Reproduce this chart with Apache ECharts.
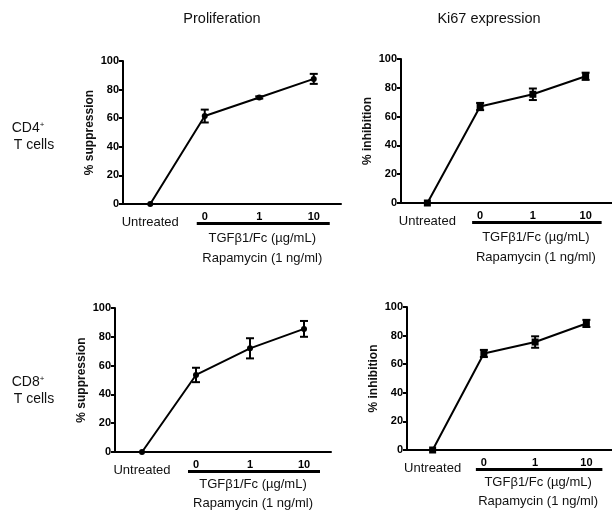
<!DOCTYPE html>
<html>
<head>
<meta charset="utf-8">
<script src="https://cdn.jsdelivr.net/npm/echarts@6/dist/echarts.min.js"></script>
<style>
  html, body { margin: 0; padding: 0; background: #fff; }
  #chart { width: 612px; height: 514px; }
</style>
</head>
<body>
<div id="chart"></div>
<script>
// categories on every x axis
var categories = ['Untreated', '0', '1', '10'];
var yTicks = [0, 20, 40, 60, 80, 100];

// CD4+ T cells
var cd4Prolif = [0, 61.5, 74.5, 87.5];
var cd4ProlifErr = [0, 4.5, 0.8, 3.5];
var cd4Ki67 = [0, 67, 75.5, 88];
var cd4Ki67Err = [0, 2.5, 4, 2.5];

// CD8+ T cells
var cd8Prolif = [0, 53.5, 72, 85.5];
var cd8ProlifErr = [0, 5, 7, 5.5];
var cd8Ki67 = [0, 67.5, 75.5, 88.5];
var cd8Ki67Err = [0, 2.5, 4, 2.5];

var FONT = '"Liberation Sans", Arial, sans-serif';

var panels = [
    { grid: { left: 123, top: 61, width: 218, height: 143 }, name: '% suppression', values: cd4Prolif, err: cd4ProlifErr, symbol: 'circle', size: 6, off: [34, 54] },
    { grid: { left: 401, top: 59, width: 216, height: 144 }, name: '% inhibition', values: cd4Ki67, err: cd4Ki67Err, symbol: 'rect', size: 7, off: [34, 54] },
    { grid: { left: 115, top: 308, width: 216, height: 144 }, name: '% suppression', values: cd8Prolif, err: cd8ProlifErr, symbol: 'circle', size: 6, off: [32, 51] },
    { grid: { left: 407, top: 307, width: 215, height: 143 }, name: '% inhibition', values: cd8Ki67, err: cd8Ki67Err, symbol: 'rect', size: 7, off: [32, 51] }
];

var chart = echarts.init(document.getElementById('chart'), null, { renderer: 'canvas' });

var grids = [], xAxes = [], yAxes = [], series = [];

panels.forEach(function (p, i) {
    grids.push(p.grid);
    xAxes.push({
        type: 'category',
        gridIndex: i,
        data: categories,
        boundaryGap: true,
        axisLine: { lineStyle: { color: '#000', width: 2 } },
        axisTick: { alignWithLabel: true, length: 4, lineStyle: { color: '#000', width: 2 },
            interval: function (idx) { return idx > 0; } },
        axisLabel: {
            interval: 0,
            margin: 7,
            color: '#000',
            fontFamily: FONT,
            fontSize: 11,
            fontWeight: 'bold',
            formatter: function (v) {
                return v === 'Untreated' ? '{u|' + v + '}' : v;
            },
            rich: {
                u: { fontFamily: FONT, fontSize: 13, fontWeight: 'normal', color: '#111', padding: [5, 0, 0, 0] }
            }
        }
    });
    yAxes.push({
        type: 'value',
        gridIndex: i,
        min: 0,
        max: 100,
        interval: 20,
        name: p.name,
        nameLocation: 'middle',
        nameGap: 27,
        nameTextStyle: { color: '#111', fontFamily: FONT, fontSize: 12, fontWeight: 'bold' },
        splitLine: { show: false },
        axisLine: { show: true, lineStyle: { color: '#000', width: 2 } },
        axisTick: { show: true, length: 4, lineStyle: { color: '#000', width: 2 } },
        axisLabel: { margin: 4, color: '#000', fontFamily: FONT, fontSize: 11, fontWeight: 'bold',
            formatter: function (v) { return yTicks.indexOf(v) >= 0 ? String(v) : ''; } }
    });
    series.push({
        type: 'line',
        xAxisIndex: i,
        yAxisIndex: i,
        data: p.values,
        symbol: p.symbol,
        symbolSize: p.size,
        lineStyle: { color: '#000', width: 2 },
        itemStyle: { color: '#000' },
        z: 3
    });
    series.push({
        type: 'custom',
        xAxisIndex: i,
        yAxisIndex: i,
        data: p.values.map(function (v, k) { return [k, v - p.err[k], v + p.err[k]]; }),
        encode: { x: 0, y: [1, 2] },
        renderItem: function (params, api) {
            var lo = api.coord([api.value(0), api.value(1)]);
            var hi = api.coord([api.value(0), api.value(2)]);
            var w = 4;
            var st = { stroke: '#000', lineWidth: 2 };
            return {
                type: 'group',
                children: [
                    { type: 'line', shape: { x1: lo[0], y1: lo[1], x2: hi[0], y2: hi[1] }, style: st },
                    { type: 'line', shape: { x1: lo[0] - w, y1: lo[1], x2: lo[0] + w, y2: lo[1] }, style: st },
                    { type: 'line', shape: { x1: hi[0] - w, y1: hi[1], x2: hi[0] + w, y2: hi[1] }, style: st }
                ]
            };
        },
        z: 4
    });
});

chart.setOption({
    animation: false,
    backgroundColor: '#fff',
    grid: grids,
    xAxis: xAxes,
    yAxis: yAxes,
    series: series
});

// titles, row labels and the treatment bar under each panel
function txt(x, y, s, size, extra) {
    var style = { text: s, fill: '#111', font: size + 'px ' + FONT, textAlign: 'center', textVerticalAlign: 'middle' };
    if (extra) style.rich = extra;
    return { type: 'text', x: x, y: y, style: style };
}
var sup = { s: { fontSize: 8, fontFamily: FONT, verticalAlign: 'top', padding: [0, 0, 6, 0] } };

var graphic = [
    txt(222, 19, 'Proliferation', 14.5),
    txt(489, 19, 'Ki67 expression', 14.5),
    txt(28, 128, 'CD4{s|+}', 14, sup),
    txt(34, 145, 'T cells', 14),
    txt(28, 382, 'CD8{s|+}', 14, sup),
    txt(34, 399, 'T cells', 14)
];

panels.forEach(function (p, i) {
    var c0 = chart.convertToPixel({ xAxisIndex: i, yAxisIndex: i }, ['0', 0]);
    var c10 = chart.convertToPixel({ xAxisIndex: i, yAxisIndex: i }, ['10', 0]);
    var base = c0[1];
    var mid = (c0[0] + c10[0]) / 2 + 3;
    graphic.push({ type: 'rect', shape: { x: c0[0] - 8, y: base + 18, width: c10[0] - c0[0] + 24, height: 3 }, style: { fill: '#000' } });
    graphic.push(txt(mid, base + p.off[0], 'TGFβ1/Fc (µg/mL)', 13));
    graphic.push(txt(mid, base + p.off[1], 'Rapamycin (1 ng/ml)', 13));
});

chart.setOption({ graphic: graphic });
</script>
</body>
</html>
